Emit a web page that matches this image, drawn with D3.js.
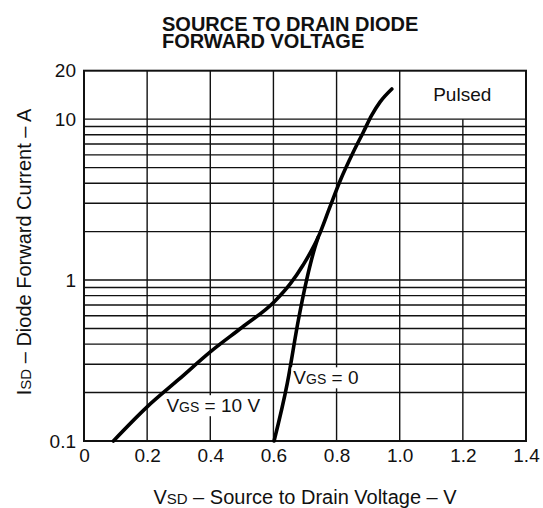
<!DOCTYPE html>
<html>
<head>
<meta charset="utf-8">
<script src="https://cdn.jsdelivr.net/npm/d3@7"></script>
<style>
  body { margin: 0; background: #fff; }
  text { font-family: "Liberation Sans", Arial, Helvetica, sans-serif; fill: #111; }
</style>
</head>
<body>
<div id="chart-area"></div>
<script>
// curve VGS = 10 V
const vsd10 = [0.093, 0.2, 0.301, 0.401, 0.501, 0.602, 0.653, 0.694, 0.742, 0.779, 0.811, 0.853, 0.885, 0.911, 0.938, 0.975];
const isd10 = [0.1, 0.163, 0.242, 0.359, 0.509, 0.731, 0.946, 1.24, 1.85, 2.85, 4.13, 6.25, 8.32, 10.55, 12.8, 15.4];
// curve VGS = 0
const vsd0 = [0.602, 0.644, 0.679, 0.705, 0.732, 0.742];
const isd0 = [0.1, 0.229, 0.565, 1.0, 1.61, 1.85];

const xTicks = [0, 0.2, 0.4, 0.6, 0.8, 1.0, 1.2, 1.4];
const yTicks = [0.1, 1, 10, 20];
const yGrid = [0.2, 0.3, 0.4, 0.5, 0.6, 0.7, 0.8, 0.9, 1, 2, 3, 4, 5, 6, 7, 8, 9, 10];

const width = 543, height = 508;
const margin = {top: 70.7, right: 17, bottom: 67, left: 84};

const svg = d3.select("#chart-area").append("svg")
    .attr("width", width)
    .attr("height", height);

const x = d3.scaleLinear().domain([0, 1.4]).range([margin.left, width - margin.right]);
const y = d3.scaleLog().domain([0.1, 20]).range([height - margin.bottom, margin.top]);

// title
svg.append("text")
    .attr("x", 162).attr("y", 31)
    .style("font-size", "20px").style("font-weight", "bold")
    .text("SOURCE TO DRAIN DIODE");
svg.append("text")
    .attr("x", 162).attr("y", 48)
    .style("font-size", "20px").style("font-weight", "bold")
    .text("FORWARD VOLTAGE");

// grid
const grid = svg.append("g").attr("stroke", "#111").attr("stroke-width", 1.4);
grid.selectAll(".hg")
    .data(yGrid)
    .enter().append("line")
    .attr("x1", x(0)).attr("x2", x(1.4))
    .attr("y1", d => y(d)).attr("y2", d => y(d));
grid.selectAll(".vg")
    .data(xTicks.slice(1, -1))
    .enter().append("line")
    .attr("x1", d => x(d)).attr("x2", d => x(d))
    // the 1.2 line stops under the "Pulsed" box
    .attr("y1", d => d > 1.1 ? y(10) : y(20))
    .attr("y2", y(0.1));

// frame
svg.append("rect")
    .attr("x", x(0)).attr("y", y(20))
    .attr("width", x(1.4) - x(0)).attr("height", y(0.1) - y(20))
    .attr("fill", "none").attr("stroke", "#111").attr("stroke-width", 2);

// axes (labels only)
const xAxis = svg.append("g")
    .attr("transform", `translate(0,${y(0.1)})`)
    .call(d3.axisBottom(x).tickValues(xTicks).tickSize(0).tickPadding(8)
        .tickFormat(d => d === 0 ? "0" : d3.format(".1f")(d)));
const yAxis = svg.append("g")
    .attr("transform", `translate(${x(0)},0)`)
    .call(d3.axisLeft(y).tickValues(yTicks).tickSize(0).tickPadding(8)
        .tickFormat(d => String(d)));
[xAxis, yAxis].forEach(g => {
    g.select(".domain").remove();
    g.selectAll("text").style("font-size", "19px").attr("fill", "#111")
        .style("font-family", "'Liberation Sans', Arial, sans-serif");
});

// curves
const line = d3.line()
    .x(d => x(d[0]))
    .y(d => y(d[1]))
    .curve(d3.curveMonotoneX);

[[vsd10, isd10], [vsd0, isd0]].forEach(([vs, is]) => {
    svg.append("path")
        .datum(vs.map((v, i) => [v, is[i]]))
        .attr("d", line)
        .attr("fill", "none")
        .attr("stroke", "#000")
        .attr("stroke-width", 3.6)
        .attr("stroke-linecap", "round");
});

// curve labels with white backing
const labels = [
    {main: "V", sub: "GS", rest: " = 10 V", v: 0.261, i: 0.151},
    {main: "V", sub: "GS", rest: " = 0", v: 0.663, i: 0.225}
];
labels.forEach(l => {
    const t = svg.append("text")
        .attr("x", x(l.v)).attr("y", y(l.i))
        .style("font-size", "19px");
    t.append("tspan").text(l.main);
    t.append("tspan").style("font-size", "14px").text(l.sub);
    t.append("tspan").text(l.rest);
    const b = t.node().getBBox();
    svg.insert("rect", () => t.node())
        .attr("x", b.x - 2).attr("y", b.y)
        .attr("width", b.width + 4).attr("height", b.height)
        .attr("fill", "#fff");
});

svg.append("text")
    .attr("x", x(1.106)).attr("y", y(13.0))
    .style("font-size", "19px")
    .text("Pulsed");

// axis titles
const xt = svg.append("text")
    .attr("x", (x(0) + x(1.4)) / 2).attr("y", 504)
    .attr("text-anchor", "middle")
    .style("font-size", "20px");
xt.append("tspan").text("V");
xt.append("tspan").style("font-size", "15px").text("SD");
xt.append("tspan").text(" – Source to Drain Voltage – V");

const yt = svg.append("text")
    .attr("transform", "translate(31,252) rotate(-90)")
    .attr("text-anchor", "middle")
    .style("font-size", "20px");
yt.append("tspan").text("I");
yt.append("tspan").style("font-size", "15px").text("SD");
yt.append("tspan").text(" – Diode Forward Current – A");
</script>
</body>
</html>
